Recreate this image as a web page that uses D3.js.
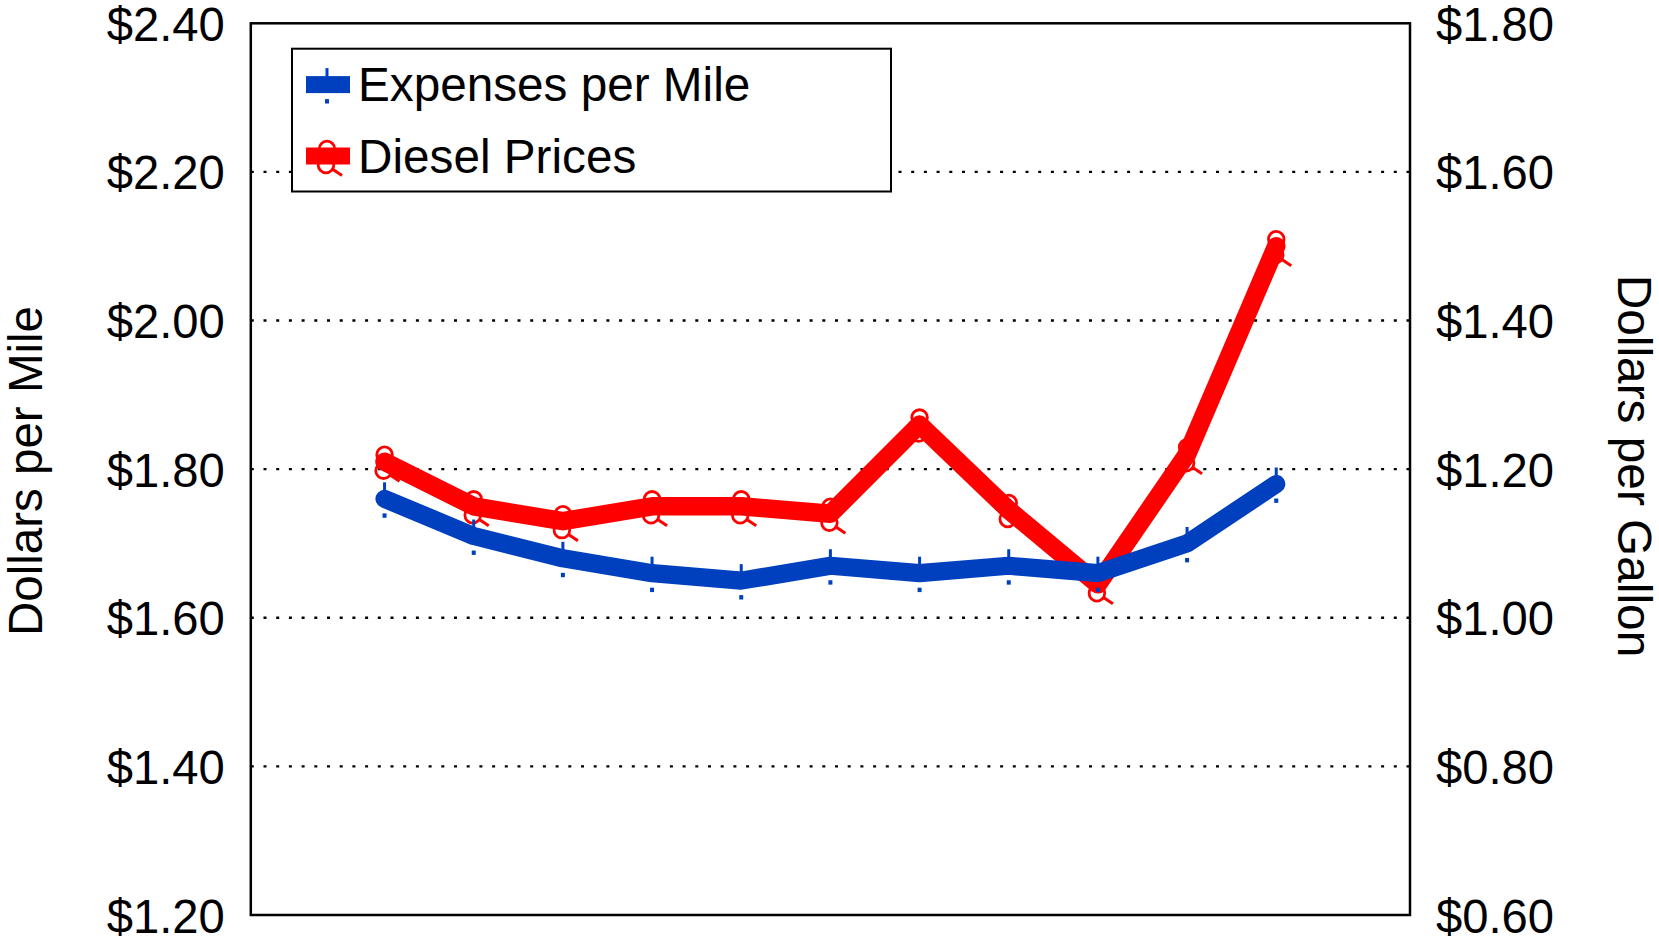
<!DOCTYPE html>
<html><head><meta charset="utf-8">
<script src="https://cdn.jsdelivr.net/npm/d3@7"></script>
<style>html,body{margin:0;padding:0;background:#fff;}svg{display:block;font-family:"Liberation Sans",Arial,sans-serif;}</style>
</head><body>
<svg id="chart" width="1659" height="943"></svg>
<script>
// Data
const periods = ["P1","P2","P3","P4","P5","P6","P7","P8","P9","P10","P11"];
const expensesPerMile = [1.76, 1.71, 1.68, 1.66, 1.65, 1.67, 1.66, 1.67, 1.66, 1.70, 1.78];
const dieselPrices = [1.21, 1.15, 1.13, 1.15, 1.15, 1.14, 1.26, 1.145, 1.045, 1.22, 1.50];
const leftTicks = [1.2, 1.4, 1.6, 1.8, 2.0, 2.2, 2.4];
const rightTicks = [0.6, 0.8, 1.0, 1.2, 1.4, 1.6, 1.8];
const seriesNames = ["Expenses per Mile", "Diesel Prices"];

const svg = d3.select("#chart");
const L = 250.8, R = 1410, T = 23.3, B = 915;
const blue = "#0040bf", red = "#ff0000";

const x = d3.scalePoint().domain(periods).range([L, R]).padding(1.5);
const yL = d3.scaleLinear().domain([1.2, 2.4]).range([B, T]);
const yR = d3.scaleLinear().domain([0.6, 1.8]).range([B, T]);
const fmt = d => "$" + d3.format(".2f")(d);

// gridlines
svg.append("g").selectAll("line").data(leftTicks.filter(d => d > 1.2 && d < 2.4)).join("line")
  .attr("x1", L).attr("x2", R).attr("y1", d => yL(d)).attr("y2", d => yL(d))
  .attr("stroke", "#000").attr("stroke-width", 2.4).attr("stroke-dasharray", "3,9.7");

// axes
const axL = svg.append("g").attr("transform", `translate(${L},0)`)
  .call(d3.axisLeft(yL).tickValues(leftTicks).tickFormat(fmt).tickSize(0).tickPadding(26));
const axR = svg.append("g").attr("transform", `translate(${R},0)`)
  .call(d3.axisRight(yR).tickValues(rightTicks).tickFormat(fmt).tickSize(0).tickPadding(26));
[axL, axR].forEach(a => {
  a.select(".domain").remove();
  a.selectAll("text").attr("font-size", 47.2).attr("fill", "#000")
    .attr("font-family", "Liberation Sans, Arial, sans-serif").attr("dy", "0.36em");
});

// frame
svg.append("rect").attr("x", L).attr("y", T).attr("width", R - L).attr("height", B - T)
  .attr("fill", "none").attr("stroke", "#000").attr("stroke-width", 2.5);

// axis titles
svg.append("text").attr("transform", `translate(25.5,471) rotate(-90)`)
  .attr("text-anchor", "middle").attr("dominant-baseline", "central")
  .attr("font-size", 47.5).text("Dollars per Mile");
svg.append("text").attr("transform", `translate(1634,466) rotate(90)`)
  .attr("text-anchor", "middle").attr("dominant-baseline", "central")
  .attr("font-size", 47.8).text("Dollars per Gallon");

// marker helpers
function blueMarker(g, cx, cy) {
  g.append("rect").attr("x", cx - 1.5).attr("y", cy - 16.5).attr("width", 3).attr("height", 9).attr("fill", blue);
  g.append("rect").attr("x", cx - 2).attr("y", cy + 14.5).attr("width", 4).attr("height", 4.4).attr("fill", blue);
}
function redMarker(g, cx, cy) {
  g.append("circle").attr("cx", cx).attr("cy", cy - 7).attr("r", 7.8)
    .attr("fill", "none").attr("stroke", red).attr("stroke-width", 2.8);
  g.append("circle").attr("cx", cx - 1).attr("cy", cy + 9).attr("r", 7.8)
    .attr("fill", "none").attr("stroke", red).attr("stroke-width", 2.8);
  g.append("line").attr("x1", cx + 6).attr("y1", cy + 13.5).attr("x2", cx + 15).attr("y2", cy + 19.5)
    .attr("stroke", red).attr("stroke-width", 3);
}

// Diesel line (right axis)
const lineR = d3.line().x((d, i) => x(periods[i])).y(d => yR(d));
svg.append("path").datum(dieselPrices).attr("d", lineR)
  .attr("fill", "none").attr("stroke", red).attr("stroke-width", 18.5)
  .attr("stroke-linejoin", "round").attr("stroke-linecap", "round");
const gR = svg.append("g");
dieselPrices.forEach((d, i) => redMarker(gR, x(periods[i]), yR(d)));

// Expenses line (left axis)
const lineL = d3.line().x((d, i) => x(periods[i])).y(d => yL(d));
svg.append("path").datum(expensesPerMile).attr("d", lineL)
  .attr("fill", "none").attr("stroke", blue).attr("stroke-width", 18.2)
  .attr("stroke-linejoin", "round").attr("stroke-linecap", "round");
const gL = svg.append("g");
expensesPerMile.forEach((d, i) => blueMarker(gL, x(periods[i]), yL(d)));

// legend
const lg = svg.append("g");
lg.append("rect").attr("x", 292).attr("y", 48.7).attr("width", 599).attr("height", 142.8)
  .attr("fill", "#fff").attr("stroke", "#000").attr("stroke-width", 2);
const legendRows = [{name: seriesNames[0], color: blue, cy: 84.6, mk: blueMarker},
                    {name: seriesNames[1], color: red, cy: 156, mk: redMarker}];
legendRows.forEach(r => {
  lg.append("rect").attr("x", 306).attr("y", r.cy - 8.5).attr("width", 44).attr("height", 17).attr("fill", r.color);
  r.mk(lg, 327, r.cy);
  lg.append("text").attr("x", 358).attr("y", r.cy + 16.5).attr("font-size", 47.7).attr("fill", "#000").text(r.name);
});
</script>
</body></html>
